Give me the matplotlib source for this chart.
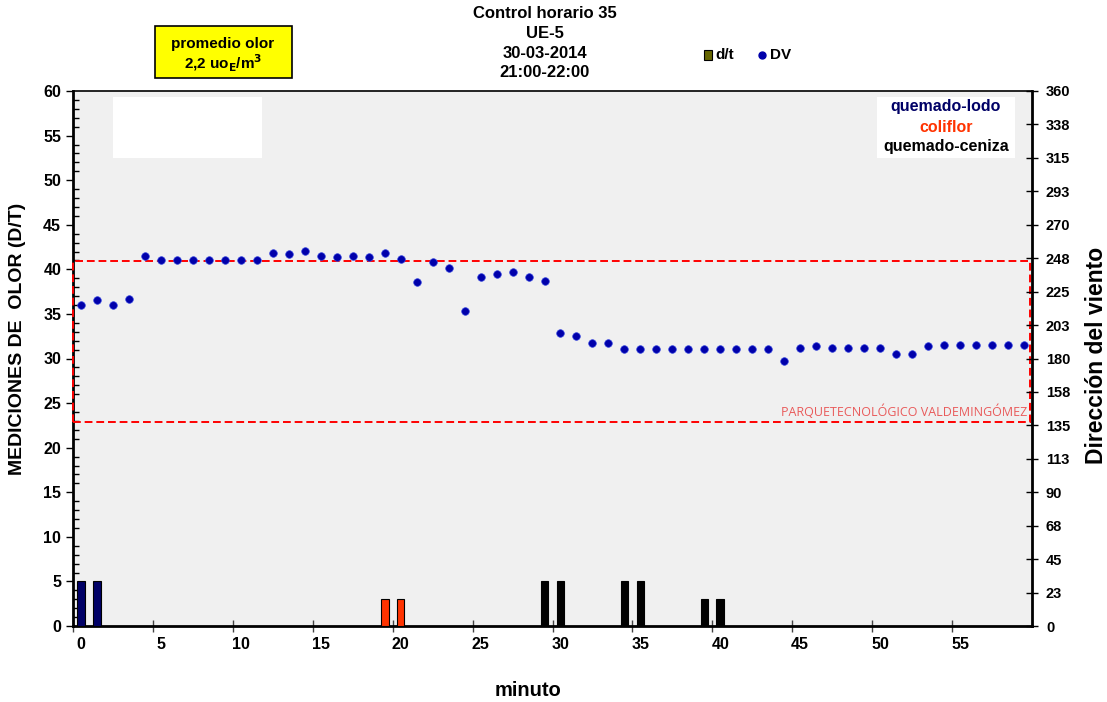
import matplotlib
matplotlib.use("Agg")
import matplotlib.pyplot as plt
from matplotlib.patches import Rectangle
import numpy as np

plt.rcParams['font.family'] = ['Liberation Sans', 'DejaVu Sans']

minutes = list(range(60))
dv = [216.2, 219.4, 216.2, 220.2, 249.2, 246.1, 246.1, 246.1, 246.1, 246.1,
      246.1, 246.1, 251.2, 250.1, 252.3, 249.2, 248.3, 249.2, 248.3, 251.2,
      247.2, 231.3, 245.1, 241.1, 212.2, 235.1, 237.1, 238.2, 235.1, 232.2,
      197.4, 195.3, 190.2, 190.2, 186.2, 186.2, 186.2, 186.2, 186.2, 186.2,
      186.2, 186.2, 186.2, 186.2, 178.3, 187.3, 188.2, 187.3, 187.3, 187.3,
      187.3, 183.2, 183.2, 188.2, 189.3, 189.3, 189.3, 189.3, 189.3, 189.3]

bar_minutes = [0, 1, 19, 20, 29, 30, 34, 35, 39, 40]
bar_values = [5, 5, 3, 3, 5, 5, 5, 5, 3, 3]
bar_types = ['quemado-lodo', 'quemado-lodo', 'coliflor', 'coliflor',
             'quemado-ceniza', 'quemado-ceniza', 'quemado-ceniza', 'quemado-ceniza',
             'quemado-ceniza', 'quemado-ceniza']
type_colors = {'quemado-lodo': '#000066', 'coliflor': '#ff3300', 'quemado-ceniza': '#000000'}

left_ticks = list(range(0, 61, 5))
right_ticks = [i * 22.5 for i in range(17)]
right_labels = ['0', '23', '45', '68', '90', '113', '135', '158', '180', '203',
                '225', '248', '270', '293', '315', '338', '360']
x_ticks = list(range(0, 56, 5))

fig = plt.figure(figsize=(11.07, 7.02), dpi=100)
ax = fig.add_axes([73/1107, 1-626/702, (1032-73)/1107, (626-91)/702])
ax.set_facecolor('#f0f0f0')

colors = [type_colors[t] for t in bar_types]
ax.bar(bar_minutes, bar_values, width=0.48, color=colors, edgecolor='black', linewidth=0.8, zorder=3)

ax.set_xlim(-0.5, 59.5)
ax.set_ylim(0, 60)
ax.set_xticks(x_ticks)
ax.set_xticks([x - 0.5 for x in range(0, 60, 5)], minor=True)
ax.set_yticks(left_ticks)
ax.set_yticks(range(0, 61), minor=True)
ax.tick_params(axis='y', which='major', direction='out', length=5, width=1, labelsize=11.5)
ax.tick_params(axis='y', which='minor', direction='in', length=4, width=1)
ax.tick_params(axis='x', which='major', length=0, labelsize=11.5, pad=8)
ax.tick_params(axis='x', which='minor', direction='inout', length=8, width=1, color='#444444')
for lab in ax.get_xticklabels() + ax.get_yticklabels():
    lab.set_fontweight('bold')
ax.spines['bottom'].set_linewidth(2)
ax.spines['left'].set_linewidth(2)
ax.spines['top'].set_linewidth(1.2)
ax.spines['right'].set_linewidth(2)
ax.set_ylabel('MEDICIONES DE  OLOR (D/T)', fontsize=14, fontweight='bold')
ax.yaxis.set_label_coords(-0.0495, 0.536)
ax.set_xlabel('minuto', fontsize=14.5, fontweight='bold')
ax.xaxis.set_label_coords(0.474, -0.103)

ax2 = ax.twinx()
ax2.set_ylim(0, 360)
ax2.set_yticks(right_ticks)
ax2.set_yticklabels(right_labels)
ax2.tick_params(axis='y', direction='inout', length=8, width=1, labelsize=10.5, pad=6)
for lab in ax2.get_yticklabels():
    lab.set_fontweight('bold')
for s in ax2.spines.values():
    s.set_visible(False)
ax2.scatter(minutes, dv, s=30, color='#0000aa', edgecolor='#3344dd', linewidth=0.5, zorder=4)
ax2.set_ylabel('Dirección del viento', fontsize=16.5, fontweight='bold')
ax2.yaxis.set_label_coords(1.055, 0.505)

# red dashed rectangle
ax.add_patch(Rectangle((-0.5, 22.9), 59.9, 18.0, fill=False, edgecolor='#ff0000',
                       linestyle=(0, (4, 2)), linewidth=1.4, zorder=5, clip_on=False))
ax.text(59.2, 24.0, 'PARQUETECNOLÓGICO VALDEMINGÓMEZ', color='#e84040', fontsize=9,
        ha='right', va='center', family=['Open Sans', 'DejaVu Sans'], alpha=0.85, zorder=6)

# white boxes
fig.patches.append(Rectangle((113/1107, 1-158/702), 149/1107, 61/702, transform=fig.transFigure,
                             facecolor='white', edgecolor='none', zorder=2))
fig.patches.append(Rectangle((877/1107, 1-158/702), 138/1107, 61/702, transform=fig.transFigure,
                             facecolor='white', edgecolor='none', zorder=2))
fig.text(946/1107, 1-107/702, 'quemado-lodo', color='#000066', fontsize=11.5, fontweight='bold',
         ha='center', va='center', zorder=3)
fig.text(946/1107, 1-127/702, 'coliflor', color='#ff3300', fontsize=11.5, fontweight='bold',
         ha='center', va='center', zorder=3)
fig.text(946/1107, 1-146/702, 'quemado-ceniza', color='#000000', fontsize=11.5, fontweight='bold',
         ha='center', va='center', zorder=3)

# yellow box
fig.patches.append(Rectangle((155/1107, 1-78/702), 137/1107, 52/702, transform=fig.transFigure,
                             facecolor='#ffff00', edgecolor='black', linewidth=1.2, zorder=2))
fig.text(223/1107, 1-44/702, 'promedio olor', fontsize=11, fontweight='bold', ha='center', va='center')
fig.text(223/1107, 1-63/702, r'2,2 uo$_\mathbf{E}$/m$^\mathbf{3}$', fontsize=11, fontweight='bold',
         ha='center', va='center')

# title
title_lines = ['Control horario 35', 'UE-5', '30-03-2014', '21:00-22:00']
for i, t in enumerate(title_lines):
    fig.text(545/1107, 1-(14 + 19.5*i)/702, t, fontsize=12, fontweight='bold', ha='center', va='center')

# legend
fig.patches.append(Rectangle((704/1107, 1-60/702), 8/1107, 10/702, transform=fig.transFigure,
                             facecolor='#666600', edgecolor='black', linewidth=0.8))
fig.text(715/1107, 1-55/702, 'd/t', fontsize=11, fontweight='bold', ha='left', va='center')
fig.lines.append(plt.Line2D([762/1107], [1-55/702], marker='o', markersize=5, color='#0000aa',
                            transform=fig.transFigure))
fig.text(770/1107, 1-55/702, 'DV', fontsize=11, fontweight='bold', ha='left', va='center')

fig.savefig('out.png', dpi=100)
